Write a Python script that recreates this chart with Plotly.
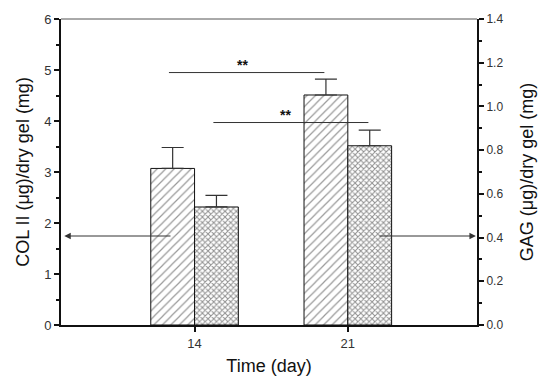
import plotly.graph_objects as go

days = [14, 21]
tick_labels = ["14", "21"]
col2 = [3.07, 4.51]
col2_err = [0.41, 0.31]
gag = [0.54, 0.82]
gag_err = [0.053, 0.072]

FONT = "Liberation Sans, Arial, sans-serif"
TICKC = "#333"

fig = go.Figure()
fig.add_trace(go.Bar(
    x=days, y=col2, width=2, offset=-2,
    marker=dict(color="white", line=dict(color="#111", width=1),
                pattern=dict(shape="/", fgcolor="#333", bgcolor="white", size=6, solidity=0.2)),
    error_y=dict(type="data", array=col2_err, arrayminus=[0, 0], symmetric=False,
                 color="#333", thickness=1.2, width=11),
    yaxis="y", showlegend=False))
fig.add_trace(go.Bar(
    x=days, y=gag, width=2, offset=0,
    marker=dict(color="white", line=dict(color="#111", width=1),
                pattern=dict(shape="x", fgcolor="#222", bgcolor="white", size=4, solidity=0.45)),
    error_y=dict(type="data", array=gag_err, arrayminus=[0, 0], symmetric=False,
                 color="#333", thickness=1.2, width=11),
    yaxis="y2", showlegend=False))

axcommon = dict(showgrid=False, zeroline=False, showline=True, linecolor="#111", linewidth=2,
                ticks="outside", ticklen=5, tickcolor="#111", tickwidth=1.5, automargin=False)
TITLEF = dict(family=FONT, size=18, color="#111")

# page body has an 8px default margin; compensate so the plot lands where the reference has it
fig.update_layout(
    width=542, height=381,
    margin=dict(l=53, r=73, t=11, b=64),
    plot_bgcolor="white", paper_bgcolor="white",
    barmode="overlay",
    xaxis=dict(range=[7.9, 26.9], tickvals=days, ticktext=tick_labels,
               tickfont=dict(family=FONT, size=13, color=TICKC),
               title=dict(text="Time (day)", font=TITLEF, standoff=10),
               **axcommon),
    yaxis=dict(range=[0, 6], dtick=1, tickformat="d",
               tickfont=dict(family=FONT, size=13, color=TICKC),
               minor=dict(dtick=0.5, ticks="outside", ticklen=3, tickcolor="#111"),
               title=dict(text="COL II (μg)/dry gel (mg)", font=TITLEF, standoff=10),
               **axcommon),
    yaxis2=dict(range=[0, 1.4], dtick=0.2, tickformat=".1f", overlaying="y", side="right",
                tickfont=dict(family=FONT, size=12, color=TICKC),
                minor=dict(dtick=0.1, ticks="outside", ticklen=3, tickcolor="#111"),
                title=dict(text="GAG (μg)/dry gel (mg)", font=TITLEF, standoff=18),
                **axcommon),
)

# top frame line
fig.add_shape(type="line", x0=0, x1=1, y0=1, y1=1, xref="paper", yref="paper",
              line=dict(color="#555", width=1))

# significance lines
fig.add_shape(type="line", x0=12.83, x1=19.93, y0=4.95, y1=4.95, xref="x", yref="y",
              line=dict(color="#333", width=1))
fig.add_shape(type="line", x0=14.86, x1=21.94, y0=3.97, y1=3.97, xref="x", yref="y",
              line=dict(color="#333", width=1))
fig.add_annotation(x=16.2, y=5.1, xref="x", yref="y", text="<b>**</b>", showarrow=False,
                   font=dict(family=FONT, size=14, color="#111"))
fig.add_annotation(x=18.15, y=4.12, xref="x", yref="y", text="<b>**</b>", showarrow=False,
                   font=dict(family=FONT, size=14, color="#111"))

# arrows
fig.add_annotation(x=8.05, y=1.745, ax=12.97, ay=1.745, xref="x", yref="y", axref="x", ayref="y",
                   text="", showarrow=True, arrowhead=2, arrowsize=1.3, arrowwidth=1, arrowcolor="#333")
fig.add_annotation(x=26.85, y=1.745, ax=22.38, ay=1.745, xref="x", yref="y", axref="x", ayref="y",
                   text="", showarrow=True, arrowhead=2, arrowsize=1.3, arrowwidth=1, arrowcolor="#333")

fig.write_html("out.html")
